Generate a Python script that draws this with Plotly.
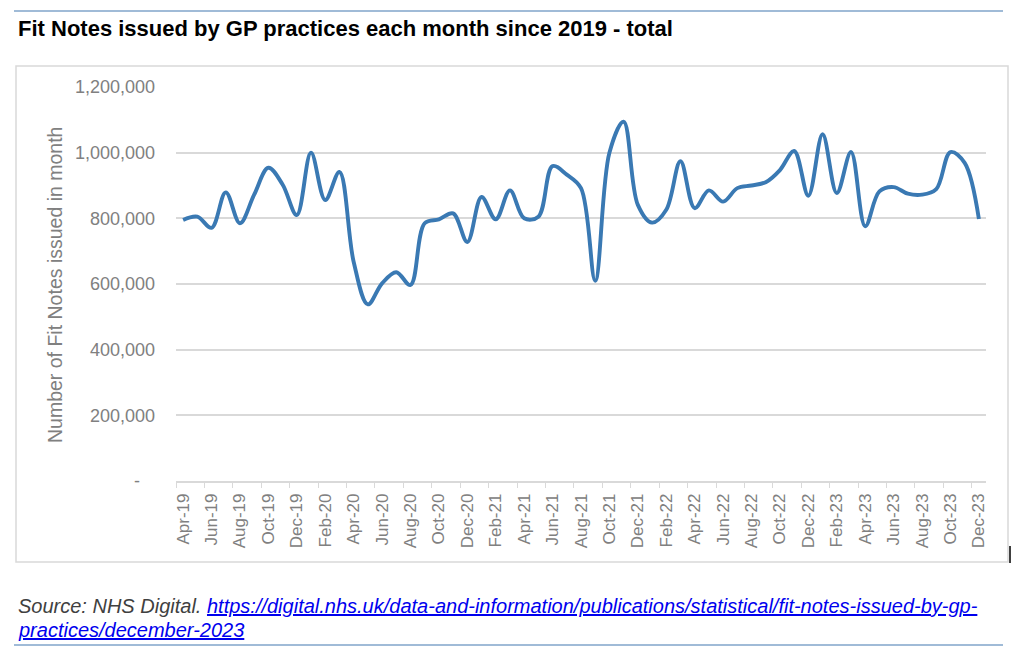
import plotly.graph_objects as go

months = [
    "Apr-19", "May-19", "Jun-19", "Jul-19", "Aug-19", "Sep-19", "Oct-19", "Nov-19", "Dec-19",
    "Jan-20", "Feb-20", "Mar-20", "Apr-20", "May-20", "Jun-20", "Jul-20", "Aug-20", "Sep-20",
    "Oct-20", "Nov-20", "Dec-20", "Jan-21", "Feb-21", "Mar-21", "Apr-21", "May-21", "Jun-21",
    "Jul-21", "Aug-21", "Sep-21", "Oct-21", "Nov-21", "Dec-21", "Jan-22", "Feb-22", "Mar-22",
    "Apr-22", "May-22", "Jun-22", "Jul-22", "Aug-22", "Sep-22", "Oct-22", "Nov-22", "Dec-22",
    "Jan-23", "Feb-23", "Mar-23", "Apr-23", "May-23", "Jun-23", "Jul-23", "Aug-23", "Sep-23",
    "Oct-23", "Nov-23", "Dec-23",
]

fit_notes = [
    795000, 805000, 771000, 879000, 785000, 872000, 954000, 903000, 810000,
    1000000, 856000, 941000, 668000, 538000, 602000, 636000, 597000, 785000,
    797000, 815000, 728000, 865000, 797000, 885000, 800000, 805000, 959000,
    933000, 892000, 610000, 1000000, 1094000, 841000, 787000, 826000, 974000,
    831000, 885000, 851000, 892000, 900000, 910000, 947000, 1005000, 869000,
    1056000, 877000, 1002000, 776000, 882000, 895000, 875000, 872000, 889000,
    1002000, 969000, 798000,
]

y_tick_vals = [0, 200000, 400000, 600000, 800000, 1000000, 1200000]
y_tick_text = ["-\u00a0\u00a0\u00a0", "200,000", "400,000", "600,000", "800,000", "1,000,000", "1,200,000"]

title_text = "Fit Notes issued by GP practices each month since 2019 - total"
y_title = "Number of Fit Notes issued in month"
source_prefix = "Source: NHS Digital. "
source_url = "https://digital.nhs.uk/data-and-information/publications/statistical/fit-notes-issued-by-gp-practices/december-2023"
source_line1 = "https://digital.nhs.uk/data-and-information/publications/statistical/fit-notes-issued-by-gp-"
source_line2 = "practices/december-2023"

# the page body adds an 8px margin, so the figure is drawn 8px smaller and coordinates shifted
OFF = 8
W, H = 1019 - OFF, 661 - OFF
L, R, T, B = 176 - OFF, 986 - OFF, 87 - OFF, 481 - OFF


def px(x):
    return (x - OFF - L) / (R - L)


def py(y):
    return (B - (y - OFF)) / (B - T)


FONT = "Liberation Sans, Arial, sans-serif"
GRAY = "#808080"
GRID = "#d9d9d9"

fig = go.Figure()
fig.add_trace(go.Scatter(
    x=months, y=fit_notes, mode="lines",
    line=dict(color="#3a79b3", width=3.9, shape="spline", smoothing=1.0),
    hoverinfo="x+y", showlegend=False,
))

fig.update_layout(
    width=W, height=H,
    margin=dict(l=L, r=W - R, t=T, b=H - B, autoexpand=False),
    paper_bgcolor="white", plot_bgcolor="white",
    font=dict(family=FONT, color=GRAY),
    xaxis=dict(
        type="category", range=[-0.5, len(months) - 0.5],
        tickmode="linear", tick0=0, dtick=2, tickson="boundaries",
        ticks="outside", ticklen=5, tickcolor=GRID, tickwidth=1.3,
        showline=True, linecolor=GRID, linewidth=1.5,
        showgrid=False, zeroline=False, ticklabelstandoff=4,
        tickangle=-90, tickfont=dict(size=17, color=GRAY, family=FONT),
        fixedrange=True,
    ),
    yaxis=dict(
        range=[0, 1200000], tickmode="array", tickvals=y_tick_vals, ticktext=y_tick_text,
        showgrid=True, gridcolor=GRID, gridwidth=1.5, zeroline=False, showline=False,
        ticks="", ticklabelstandoff=20,
        tickfont=dict(size=18, color=GRAY, family=FONT),
        fixedrange=True,
    ),
    shapes=[
        dict(type="rect", xref="paper", yref="paper", x0=px(16), x1=px(1008), y0=py(66), y1=py(562),
             line=dict(color=GRID, width=1.5), fillcolor="rgba(0,0,0,0)", layer="below"),
        dict(type="line", xref="paper", yref="paper", x0=px(14), x1=px(1003), y0=py(11), y1=py(11),
             line=dict(color="#4279b0", width=1.2)),
        dict(type="line", xref="paper", yref="paper", x0=px(14), x1=px(1003), y0=py(645), y1=py(645),
             line=dict(color="#4279b0", width=1.2)),
        dict(type="line", xref="paper", yref="paper", x0=px(1010), x1=px(1010), y0=py(546), y1=py(563),
             line=dict(color="#000000", width=1.5)),
    ],
    annotations=[
        dict(text="<b>" + title_text + "</b>", xref="paper", yref="paper", x=px(16), y=py(28),
             xanchor="left", yanchor="middle", showarrow=False,
             font=dict(size=22, color="#000000", family=FONT)),
        dict(text=y_title, xref="paper", yref="paper", x=px(55), y=py(285), textangle=-90,
             xanchor="center", yanchor="middle", showarrow=False,
             font=dict(size=19.5, color=GRAY, family=FONT)),
        dict(text="<i>" + source_prefix + "<a href='" + source_url + "' style='color:#0000ee'><u>"
             + source_line1 + "</u></a></i>",
             xref="paper", yref="paper", x=px(16), y=py(606),
             xanchor="left", yanchor="middle", showarrow=False,
             font=dict(size=20, color="#404040", family=FONT)),
        dict(text="<i><a href='" + source_url + "' style='color:#0000ee'><u>" + source_line2 + "</u></a></i>",
             xref="paper", yref="paper", x=px(16), y=py(630),
             xanchor="left", yanchor="middle", showarrow=False,
             font=dict(size=20, color="#404040", family=FONT)),
    ],
)

fig.write_html("out.html", config={"displayModeBar": False})
